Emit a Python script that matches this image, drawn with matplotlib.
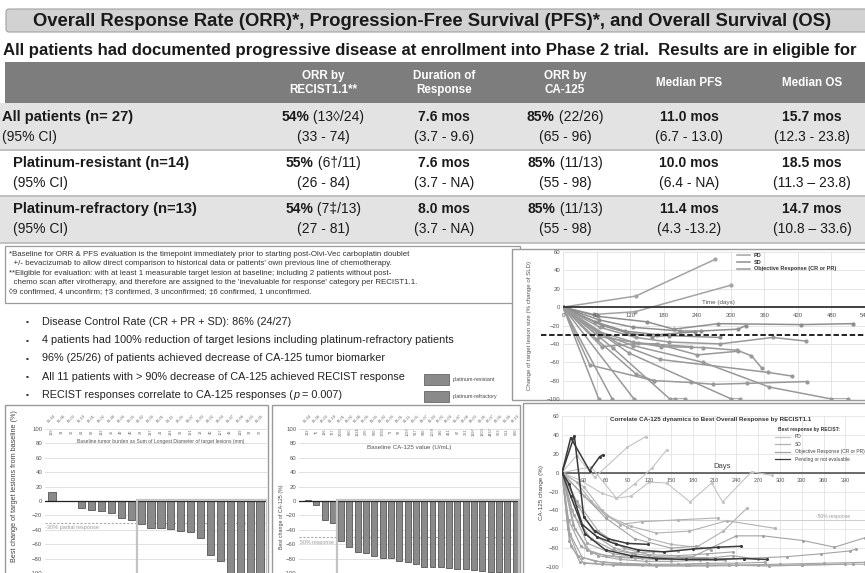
import matplotlib.pyplot as plt
from matplotlib.patches import Rectangle, FancyBboxPatch

plt.rcParams['font.family'] = ['Liberation Sans', 'DejaVu Sans']

W, H = 865, 573

# ---------------- text / table values
title = "Overall Response Rate (ORR)*, Progression-Free Survival (PFS)*, and Overall Survival (OS)"
subtitle = ("All patients had documented progressive disease at enrollment into Phase 2 trial.  "
            "Results are in eligible for")
col_heads = ["ORR by\nRECIST1.1**", "Duration of\nResponse", "ORR by\nCA-125", "Median PFS", "Median OS"]
row_labels = ["All patients (n= 27)", "Platinum-resistant (n=14)", "Platinum-refractory (n=13)"]
orr_recist_pct = ["54%", "55%", "54%"]
orr_recist_n = [" (13◊/24)", " (6†/11)", " (7‡/13)"]
orr_recist_ci = ["(33 - 74)", "(26 - 84)", "(27 - 81)"]
dor = ["7.6 mos", "7.6 mos", "8.0 mos"]
dor_ci = ["(3.7 - 9.6)", "(3.7 - NA)", "(3.7 - NA)"]
orr_ca_pct = ["85%", "85%", "85%"]
orr_ca_n = [" (22/26)", " (11/13)", " (11/13)"]
orr_ca_ci = ["(65 - 96)", "(55 - 98)", "(55 - 98)"]
pfs = ["11.0 mos", "10.0 mos", "11.4 mos"]
pfs_ci = ["(6.7 - 13.0)", "(6.4 - NA)", "(4.3 -13.2)"]
os_med = ["15.7 mos", "18.5 mos", "14.7 mos"]
os_ci = ["(12.3 - 23.8)", "(11.3 – 23.8)", "(10.8 – 33.6)"]

footnotes = [
    "*Baseline for ORR & PFS evaluation is the timepoint immediately prior to starting post-Olvi-Vec carboplatin doublet",
    "  +/- bevacizumab to allow direct comparison to historical data or patients' own previous line of chemotherapy.",
    "**Eligible for evaluation: with at least 1 measurable target lesion at baseline; including 2 patients without post-",
    "  chemo scan after virotherapy, and therefore are assigned to the 'inevaluable for response' category per RECIST1.1.",
    "◊9 confirmed, 4 unconfirm; †3 confirmed, 3 unconfirmed; ‡6 confirmed, 1 unconfirmed.",
]
bullets = [
    "Disease Control Rate (CR + PR + SD): 86% (24/27)",
    "4 patients had 100% reduction of target lesions including platinum-refractory patients",
    "96% (25/26) of patients achieved decrease of CA-125 tumor biomarker",
    "All 11 patients with > 90% decrease of CA-125 achieved RECIST response",
]

# ---------------- waterfall: best change of target lesions (RECIST)
recist_ids = ["01-04", "01-06", "02-03", "01-10", "02-01", "03-02", "01-08", "02-06", "03-05", "01-02", "02-09",
              "03-01", "01-11", "02-05", "03-07", "01-03", "02-02", "03-04", "01-07", "02-08", "03-03", "01-05"]
recist_sld = ["139", "34", "30", "61", "62", "132", "35", "49", "40", "23", "137",
              "21", "191", "30", "131", "18", "40", "107", "43", "119", "33", "37"]
recist_change = [13, 0, 0, -10, -12, -14, -16, -24, -27, -32, -37, -38, -39, -42, -43, -52, -75, -83,
                 -100, -100, -100, -100]

# ---------------- waterfall: best change of CA-125
ca_ids = ["01-04", "01-06", "02-03", "01-10", "02-01", "03-02", "01-08", "02-06", "03-05", "01-02", "02-09",
          "03-01", "01-11", "02-05", "03-07", "01-03", "02-02", "03-04", "01-07", "02-08", "03-03", "01-05",
          "02-07", "03-06", "01-09", "02-10"]
ca_base = ["132", "75", "136", "767", "2050", "680", "1124", "270", "990", "1790", "71", "92", "1097",
           "917", "930", "1058", "380", "461", "87", "261", "1397", "1200", "4467", "963", "511", "800"]
ca_change = [2, -6, -27, -31, -55, -64, -71, -72, -76, -79, -79, -84, -85, -88, -91, -92, -92, -93,
             -94, -95, -96, -97, -98, -99, -100, -100]

# ---------------- spider: change of target lesion size over time
sld_days = [
    [0, 130, 272], [0, 55, 129, 301],
    [0, 62, 150, 198, 278, 426, 519], [0, 65, 126, 210, 246, 313, 327],
    [0, 58, 110, 168, 236], [0, 70, 115, 160, 190, 280],
    [0, 66, 130, 190, 281, 375, 435], [0, 60, 125, 175, 251, 312, 337, 355],
    [0, 69, 126, 168, 240, 313], [0, 48, 162, 228, 269, 329, 437],
    [0, 100, 174, 366, 409], [0, 62, 126, 250, 369, 480, 509],
    [0, 64], [0, 88], [0, 127], [0, 90, 191, 201, 219], [0, 118, 301, 317],
    [0, 60, 131, 162], [0, 64, 134, 228],
]
sld_change = [
    [0, 12, 52], [0, -8, -5, 24],
    [0, -10, -16, -24, -18, -19, -18], [0, -14, -22, -26, -26, -24, -20],
    [0, -16, -26, -30, -27], [0, -20, -28, -32, -31, -33],
    [0, -22, -33, -38, -40, -33, -37], [0, -26, -38, -43, -44, -47, -53, -66],
    [0, -43, -40, -40, -52, -48], [0, -63, -80, -82, -84, -83, -81],
    [0, -40, -57, -71, -75], [0, -28, -42, -60, -87, -100, -100],
    [0, -100], [0, -100], [0, -100], [0, -45, -100, -100, -100], [0, -50, -100, -100],
    [0, -35, -73, -80], [0, -32, -39, -43],
]
sld_group = ["PD", "PD", "SD", "SD", "SD", "SD", "OR", "OR", "OR", "OR", "OR", "OR",
             "OR", "OR", "OR", "OR", "OR", "OR", "OR"]

# ---------------- CA-125 dynamics
ca_days = [
    [0, 12, 38, 52, 57], [0, 17, 30, 45, 63, 90, 118],
    [0, 10, 28, 48, 75, 105, 140, 180, 215, 247], [0, 12, 32, 60, 95, 130, 170, 210, 250, 282],
    [0, 20, 45, 90, 115], [0, 40, 75, 100, 124, 144],
    [0, 25, 55, 75, 95, 120, 144, 176, 206, 221, 261, 289],
    [0, 20, 40, 62, 90, 120, 150, 185, 222, 254], [0, 30, 60, 95, 130, 175, 227, 293],
    [0, 15, 35, 60, 100, 140, 180, 240, 277, 332, 375, 417],
    [0, 18, 40, 80, 130, 190, 250, 310, 357, 396, 405],
    [0, 10, 25, 55, 110, 170, 240, 300, 360, 417],
    [0, 12, 30, 70, 130, 200, 270, 330, 400, 417],
    [0, 8, 22, 45, 80, 120, 160, 200, 240, 280],
    [0, 14, 35, 70, 110, 150, 195, 235, 270],
    [0, 20, 50, 85, 120, 160, 200, 236],
    [0, 9, 26, 50, 80, 115, 150, 190, 225],
    [0, 16, 40, 70, 100, 130, 165, 200],
    [0, 25, 60, 100, 150, 185, 205],
    [0, 30, 55, 80, 110, 160, 215],
    [0, 22, 48, 72, 96, 125, 160],
    [0, 11, 28, 56, 90, 130, 175, 230, 285, 330, 390],
]
ca_dyn = [
    [0, 37, 2, 17, 19], [0, 39, -47, -62, -70, -75, -76],
    [0, -12, -55, -68, -76, -82, -84, -81, -79, -78], [0, -25, -65, -82, -88, -91, -92, -92, -91, -92],
    [0, 18, -5, 27, 38], [0, 6, -27, -12, 5, 24],
    [0, -8, -22, -27, -25, -10, -11, -31, -11, -31, 1, -3],
    [0, -10, -30, -46, -58, -70, -76, -79, -62, -38], [0, -25, -45, -57, -64, -62, -51, -59],
    [0, -55, -82, -88, -90, -90, -89, -67, -67, -72, -79, -69],
    [0, -60, -85, -90, -92, -92, -91, -89, -86, -83, -81],
    [0, -72, -95, -97, -98, -98, -98, -97, -96, -95],
    [0, -78, -96, -98, -99, -99, -98, -98, -97, -97],
    [0, -60, -88, -94, -96, -97, -97, -96, -96, -95],
    [0, -40, -75, -86, -90, -92, -91, -88, -92],
    [0, -30, -62, -80, -87, -88, -86, -84],
    [0, -50, -78, -88, -92, -94, -94, -93, -93],
    [0, -45, -70, -82, -86, -89, -90, -90],
    [0, -20, -48, -70, -80, -78, -82],
    [0, -15, -40, -55, -52, -50, -48],
    [0, -35, -68, -80, -85, -84, -83],
    [0, -65, -90, -95, -97, -98, -98, -98, -99, -98, -97],
]
ca_group = ["NE", "NE", "NE", "NE", "PD", "PD", "PD", "SD", "SD", "OR", "OR", "OR", "OR", "OR",
            "OR", "OR", "OR", "OR", "OR", "SD", "OR", "OR"]

fig = plt.figure(figsize=(W / 100, H / 100), dpi=100)
bg = fig.add_axes([0, 0, 1, 1])
bg.set_xlim(0, W)
bg.set_ylim(H, 0)
bg.axis('off')


def pax(x0, y0, x1, y1):
    # axes placed in pixel coords (origin top-left)
    return fig.add_axes([x0 / W, 1 - y1 / H, (x1 - x0) / W, (y1 - y0) / H])


def runs(x, y, parts, ha='left', **kw):
    # consecutive text pieces with different weights on one line
    r = fig.canvas.get_renderer()
    ts = [bg.text(0, y, s, va='center', **kw, **st) for s, st in parts]
    ws = [t.get_window_extent(r).width for t in ts]
    x0 = x - sum(ws) / 2 if ha == 'center' else x
    for t, w in zip(ts, ws):
        t.set_x(x0)
        x0 += w


# title banner + subtitle
bg.add_patch(FancyBboxPatch((6, 9), 880, 23, boxstyle='round,pad=0,rounding_size=3',
                            fc='#d2d2d2', ec='#a0a0a0', lw=0.8))
bg.text(432, 21, title, ha='center', va='center', fontsize=13.3, weight='bold', color='#1a1a1a')
bg.text(3, 50, subtitle, ha='left', va='center', fontsize=12.1, weight='bold', color='#1a1a1a')

# table
bg.add_patch(Rectangle((5, 62), 870, 41, fc='#7d7d7d', ec='none'))
for i, fc in enumerate(['#e3e3e3', 'white', '#e3e3e3']):
    bg.add_patch(Rectangle((0, 103 + 46.7 * i), 870, 46.7, fc=fc, ec='none'))
for yy in [150, 196, 243]:
    bg.plot([0, 870], [yy, yy], color='#bdbdbd', lw=1.3)
col_x = [323, 444, 565, 689, 812]
for x, h in zip(col_x, col_heads):
    bg.text(x, 83, h, ha='center', va='center', fontsize=8.4, weight='bold', color='white',
            linespacing=1.15)

for i in range(3):
    y1 = 117 + 46 * i
    y2 = y1 + 20
    lx = 2 if i == 0 else 13
    bg.text(lx, y1, row_labels[i], va='center', fontsize=10.6, weight='bold', color='#1a1a1a')
    bg.text(lx, y2, "(95% CI)", va='center', fontsize=10, color='#1a1a1a')
    runs(col_x[0], y1, [(orr_recist_pct[i], {'weight': 'bold'}), (orr_recist_n[i], {})],
         ha='center', fontsize=10, color='#1a1a1a')
    runs(col_x[2], y1, [(orr_ca_pct[i], {'weight': 'bold'}), (orr_ca_n[i], {})],
         ha='center', fontsize=10, color='#1a1a1a')
    for x, v in zip([col_x[1], col_x[3], col_x[4]], [dor[i], pfs[i], os_med[i]]):
        bg.text(x, y1, v, ha='center', va='center', fontsize=10, weight='bold', color='#1a1a1a')
    for x, v in zip(col_x, [orr_recist_ci[i], dor_ci[i], orr_ca_ci[i], pfs_ci[i], os_ci[i]]):
        bg.text(x, y2, v, ha='center', va='center', fontsize=10, color='#1a1a1a')

# footnotes
bg.add_patch(Rectangle((5, 246), 515, 57, fc='white', ec='#9a9a9a', lw=0.9))
for k, line in enumerate(footnotes):
    bg.text(9, 254 + 9.6 * k, line, va='center', fontsize=5.7, color='#333333')

# bullets
for k, b in enumerate(bullets):
    bg.text(27, 322 + 18.2 * k, "▪", va='center', ha='center', fontsize=6, color='#333333')
    bg.text(42, 322 + 18.2 * k, b, va='center', fontsize=7.8, color='#222222')
bg.text(27, 395, "▪", va='center', ha='center', fontsize=6, color='#333333')
runs(42, 395, [("RECIST responses correlate to CA-125 responses (", {}), ("p", {'style': 'italic'}),
               (" = 0.007)", {})], fontsize=7.8, color='#222222')

# bar legend
for yy, lab in [(374, "platinum-resistant"), (391, "platinum-refractory")]:
    bg.add_patch(Rectangle((424, yy), 25, 10.5, fc='#8a8a8a', ec='#666666', lw=0.6))
    bg.text(453, yy + 5.5, lab, va='center', fontsize=3.8, color='#444444')

# panel frames
for (x0, y0, x1, y1) in [(512, 249, 870, 400), (5, 405, 268, 580), (272, 405, 520, 580), (523, 403, 870, 580)]:
    bg.add_patch(Rectangle((x0, y0), x1 - x0, y1 - y0, fc='white', ec='#9a9a9a', lw=1))


def small_axes(ax, yticks):
    ax.set_facecolor('none')
    for s in ax.spines.values():
        s.set_visible(False)
    ax.set_yticks(yticks)
    ax.tick_params(length=0, labelsize=4.3, labelcolor='#555555', pad=2)
    ax.set_axisbelow(True)


# ---- RECIST waterfall
ax1 = pax(45, 429, 267, 573)
small_axes(ax1, range(-100, 101, 20))
ax1.set_xticks([])
ax1.set_xlim(-0.7, 21.7)
ax1.set_ylim(-100, 100)
ax1.grid(axis='y', color='#dcdcdc', lw=0.6)
ax1.bar(range(len(recist_change)), recist_change, width=0.72, color='#8a8a8a', edgecolor='#555555', lw=0.6,
        zorder=3)
ax1.axhline(0, color='#222222', lw=0.9, zorder=4)
ax1.axhline(-30, color='#aaaaaa', lw=0.8, ls=(0, (2, 1.5)), zorder=2)
ax1.add_patch(Rectangle((8.55, -150), 13.1, 151, fill=False, ec='#c4c4c4', lw=1.6, zorder=5))
ax1.text(-0.7, -34, "-30% partial response", fontsize=4, color='#9a9a9a', va='top', zorder=6)
ax1.text(11, 82, "Baseline tumor burden as Sum of Longest Diameter of target lesions (mm)",
         ha='center', va='center', fontsize=3.6, color='#555555')
for i, (pid, s) in enumerate(zip(recist_ids, recist_sld)):
    ax1.text(i, 114, pid, rotation=45, ha='center', va='center', fontsize=2.8, color='#666666', clip_on=False)
    ax1.text(i, 96, s, rotation=90, ha='center', va='center', fontsize=2.8, color='#666666')
bg.text(15, 410, "Best change of target lesions from baseline (%)", rotation=90, ha='center', va='top',
        fontsize=5.2, color='#444444')

# ---- CA-125 waterfall
ax2 = pax(299, 429, 520, 573)
small_axes(ax2, range(-100, 101, 20))
ax2.set_xticks([])
ax2.set_xlim(-1.08, 25.54)
ax2.set_ylim(-100, 100)
ax2.grid(axis='y', color='#dcdcdc', lw=0.6)
ax2.bar(range(len(ca_change)), ca_change, width=0.72, color='#8a8a8a', edgecolor='#555555', lw=0.6, zorder=3)
ax2.axhline(0, color='#222222', lw=0.9, zorder=4)
ax2.axhline(-50, color='#aaaaaa', lw=0.8, ls=(0, (2, 1.5)), zorder=2)
ax2.add_patch(Rectangle((3.5, -150), 21.95, 151, fill=False, ec='#c4c4c4', lw=1.6, zorder=5))
ax2.text(-0.9, -54, "50% response", fontsize=3.8, color='#9a9a9a', va='top', zorder=6)
ax2.text(12.2, 74, "Baseline CA-125 value (U/mL)", ha='center', va='center', fontsize=4.5, color='#555555')
for i, (pid, s) in enumerate(zip(ca_ids, ca_base)):
    ax2.text(i, 114, pid, rotation=45, ha='center', va='center', fontsize=2.8, color='#666666', clip_on=False)
    ax2.text(i, 96, s, rotation=90, ha='center', va='center', fontsize=2.8, color='#666666')
bg.text(281, 517, "Best change of CA-125 (%)", rotation=90, ha='center', va='center',
        fontsize=3.8, color='#444444')

# ---- spider plot of target lesions
grp_col = {'PD': '#a3a3a3', 'SD': '#8e8e8e', 'OR': '#999999', 'NE': '#3c3c3c'}
ax3 = pax(563, 252, 865, 399)
small_axes(ax3, range(-100, 61, 20))
ax3.set_xlim(0, 540)
ax3.set_ylim(-100, 60)
ax3.set_xticks(range(0, 541, 60))
ax3.set_xticklabels([])
ax3.grid(color='#e0e0e0', lw=0.6)
for d, v, g in zip(sld_days, sld_change, sld_group):
    ax3.plot(d, v, color=grp_col[g], lw=1.1, marker='o', ms=2, zorder=3)
ax3.axhline(0, color='#333333', lw=1.3, zorder=4)
ax3.plot([-40, 540], [-30, -30], color='#111111', lw=1.3, ls=(0, (3, 1.5)), zorder=4, clip_on=False)
for d in range(0, 541, 60):
    ax3.text(d, -9, str(d), ha='center', va='center', fontsize=4.3, color='#555555', clip_on=False)
ax3.text(278, 5, "Time (days)", ha='center', va='center', fontsize=4.5, color='#555555')
for k, (g, lab) in enumerate([('PD', "PD"), ('SD', "SD"), ('OR', "Objective Response (CR or PR)")]):
    yy = 56.5 - 7.5 * k
    ax3.plot([311, 335], [yy, yy], color=grp_col[g], lw=1.1)
    ax3.text(341, yy, lab, va='center', fontsize=4, weight='bold', color='#333333')
bg.text(530, 325, "Change of target lesion size (% change of SLD)", rotation=90, ha='center', va='center',
        fontsize=4.4, color='#555555')

# ---- CA-125 dynamics
ca_col = {'PD': '#c4c4c4', 'SD': '#b2b2b2', 'OR': '#a3a3a3', 'NE': '#3a3a3a'}
ax4 = pax(562, 416, 865, 567)
small_axes(ax4, range(-100, 61, 20))
ax4.set_xlim(0, 417)
ax4.set_ylim(-100, 60)
ax4.set_xticks(range(0, 418, 30))
ax4.set_xticklabels([])
ax4.grid(color='#e4e4e4', lw=0.6)
for d, v, g in zip(ca_days, ca_dyn, ca_group):
    ax4.plot(d, v, color=ca_col[g], lw=0.8 if g != 'NE' else 1.1, marker='o', ms=1.2,
             zorder=4 if g == 'NE' else 3)
ax4.axhline(0, color='#444444', lw=1.1, zorder=2)
ax4.axhline(-50, color='#cfcfcf', lw=0.8, zorder=2)
for d in range(30, 418, 30):
    ax4.text(d, -8, str(d), ha='center', va='center', fontsize=4, color='#555555')
ax4.text(221, 6, "Days", ha='center', va='center', fontsize=5.5, color='#444444')
ax4.text(373, -47, "-50% response", ha='center', va='center', fontsize=3.6, color='#999999')
ax4.text(204, 56, "Correlate CA-125 dynamics to Best Overall Response by RECIST1.1", ha='center',
         va='center', fontsize=4.5, weight='bold', color='#333333', clip_on=False)
ax4.text(297, 46, "Best response by RECIST:", va='center', fontsize=3.5, weight='bold', color='#333333')
for k, (g, lab) in enumerate([('PD', "PD"), ('SD', "SD"), ('OR', "Objective Response (CR or PR)"),
                               ('NE', "Pending or not evaluable")]):
    yy = 37.8 - 7.8 * k
    ax4.plot([293, 314], [yy, yy], color=ca_col[g], lw=0.9)
    ax4.text(320, yy, lab, va='center', fontsize=3.5, color='#444444')
bg.text(542, 493, "CA-125 change (%)", rotation=90, ha='center', va='center', fontsize=4.5, color='#444444')

fig.savefig('out.png', dpi=100)
